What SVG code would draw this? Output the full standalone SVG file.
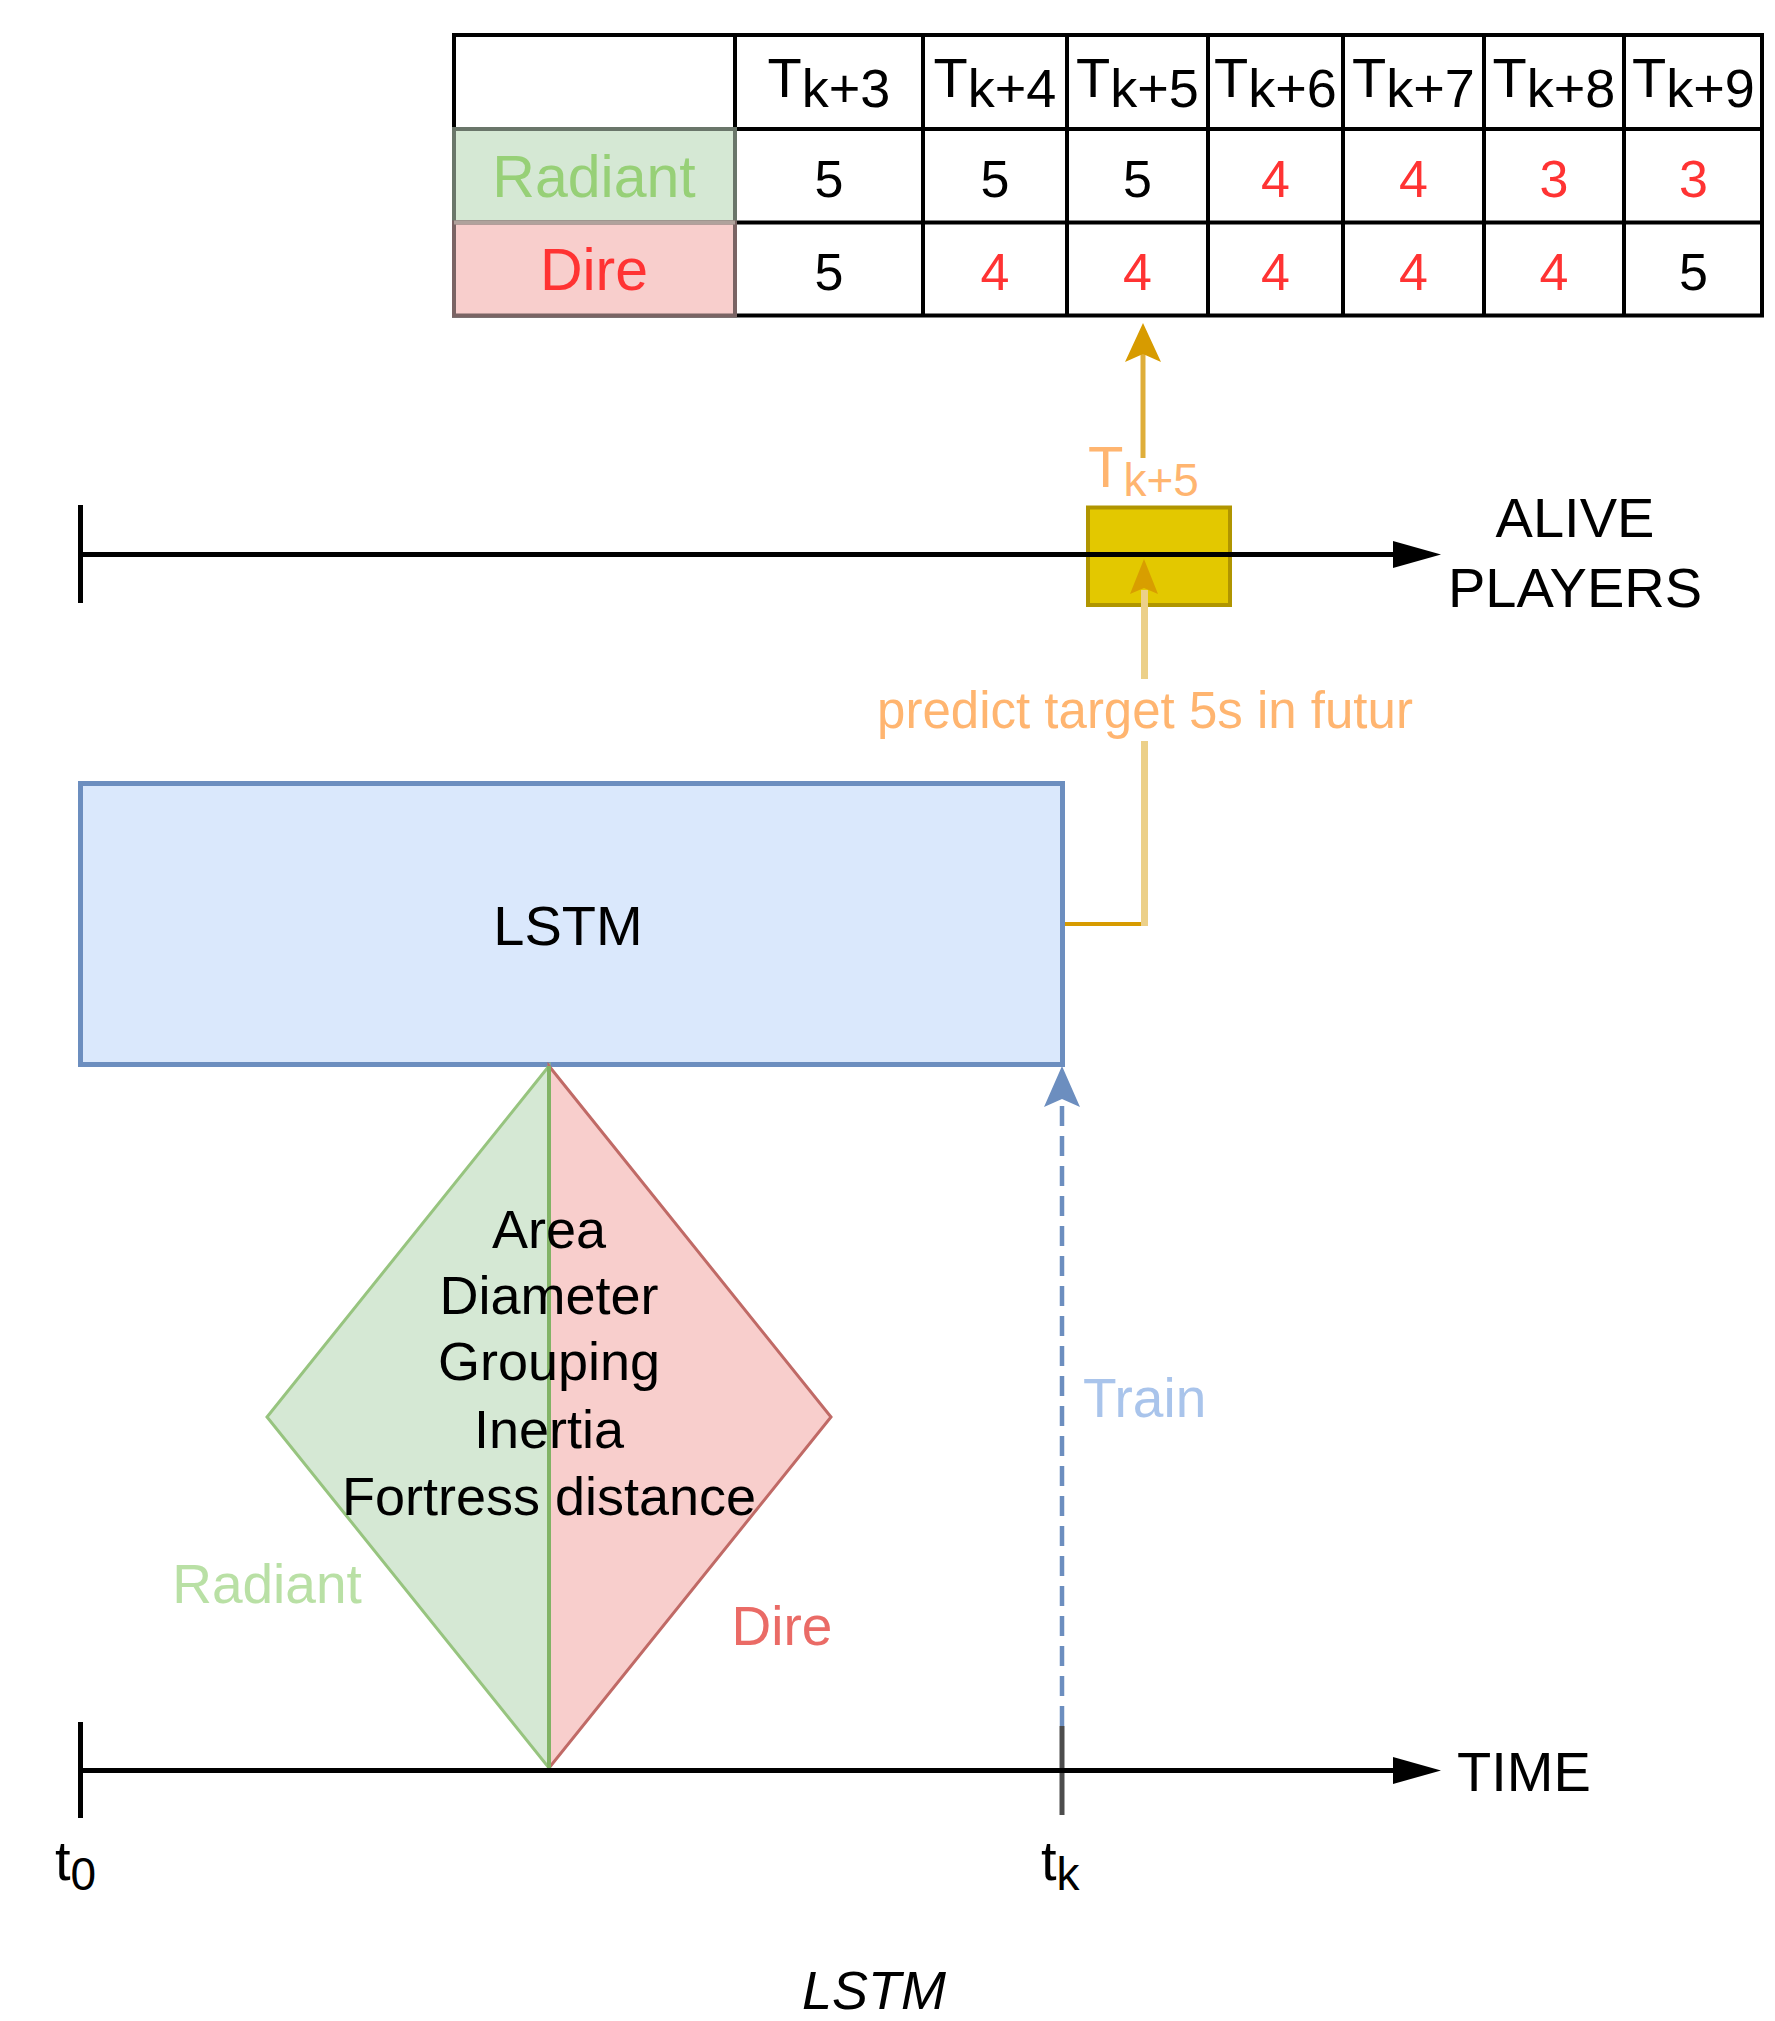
<svg xmlns="http://www.w3.org/2000/svg" width="1775" height="2021" viewBox="0 0 1775 2021">
<style>
text{font-family:"Liberation Sans",Arial,Helvetica,sans-serif}
.hd{font-size:56px;text-anchor:middle;fill:#000}
.sub{font-size:54px}
.num{font-size:52px;text-anchor:middle}
.blk{fill:#000}
.red{fill:#ff3333}
.grid{stroke:#000;stroke-width:4;fill:none}
.axis{stroke:#000;stroke-width:5;fill:none}
.big{font-size:56px;fill:#000}
.feat{font-size:54px;text-anchor:middle;fill:#000}
</style>
<rect x="0" y="0" width="1775" height="2021" fill="#fff"/>

<g id="table">
<rect x="454" y="35" width="1308" height="280.5" fill="#fff" stroke="#000" stroke-width="4"/>
<path class="grid" d="M454,129H1762M454,222.5H1762M735,35V315.5M923,35V315.5M1067,35V315.5M1208,35V315.5M1343,35V315.5M1484,35V315.5M1624,35V315.5"/>
<rect x="454" y="129" width="281" height="93.5" fill="#d5e8d4" stroke="#6a766a" stroke-width="4"/>
<rect x="454" y="222.5" width="281" height="93" fill="#f8cecc" stroke="#7a6464" stroke-width="4"/>
<line x1="454" y1="222.5" x2="735" y2="222.5" stroke="#b0a29c" stroke-width="4"/>
<text x="594" y="197" font-size="59" text-anchor="middle" fill="#97d077">Radiant</text>
<text x="594" y="290" font-size="59" text-anchor="middle" fill="#ff3333">Dire</text>
<text class="hd" x="829" y="97">T<tspan class="sub" dy="10">k+3</tspan></text>
<text class="hd" x="995" y="97">T<tspan class="sub" dy="10">k+4</tspan></text>
<text class="hd" x="1137.5" y="97">T<tspan class="sub" dy="10">k+5</tspan></text>
<text class="hd" x="1275.5" y="97">T<tspan class="sub" dy="10">k+6</tspan></text>
<text class="hd" x="1413.5" y="97">T<tspan class="sub" dy="10">k+7</tspan></text>
<text class="hd" x="1554" y="97">T<tspan class="sub" dy="10">k+8</tspan></text>
<text class="hd" x="1693.5" y="97">T<tspan class="sub" dy="10">k+9</tspan></text>
<text class="num blk" x="829" y="197">5</text>
<text class="num blk" x="995" y="197">5</text>
<text class="num blk" x="1137.5" y="197">5</text>
<text class="num red" x="1275.5" y="197">4</text>
<text class="num red" x="1413.5" y="197">4</text>
<text class="num red" x="1554" y="197">3</text>
<text class="num red" x="1693.5" y="197">3</text>
<text class="num blk" x="829" y="290">5</text>
<text class="num red" x="995" y="290">4</text>
<text class="num red" x="1137.5" y="290">4</text>
<text class="num red" x="1275.5" y="290">4</text>
<text class="num red" x="1413.5" y="290">4</text>
<text class="num red" x="1554" y="290">4</text>
<text class="num blk" x="1693.5" y="290">5</text>
</g>

<g id="lstm">
<rect x="80.5" y="783.5" width="982" height="281" fill="#dae8fc" stroke="#6c8ebf" stroke-width="5"/>
<text x="568" y="945" font-size="56" text-anchor="middle" fill="#000">LSTM</text>
</g>

<g id="features-diamond">
<polygon points="549,1066 267,1417 549,1768" fill="#d5e8d4" stroke="#97c47f" stroke-width="3"/>
<polygon points="549,1066 831,1417 549,1768" fill="#f8cecc" stroke="#c06a66" stroke-width="3"/>
<line x1="549" y1="1066" x2="549" y2="1768" stroke="#82b366" stroke-width="4"/>
<text class="feat" x="549" y="1248">Area</text>
<text class="feat" x="549" y="1314">Diameter</text>
<text class="feat" x="549" y="1380">Grouping</text>
<text class="feat" x="549" y="1448">Inertia</text>
<text class="feat" x="549" y="1515">Fortress distance</text>
</g>

<g id="radiant-label"><text x="267" y="1603" font-size="55" text-anchor="middle" fill="#b9e0a5">Radiant</text></g>
<g id="dire-label"><text x="782" y="1645" font-size="55" text-anchor="middle" fill="#ea6b66">Dire</text></g>

<g id="target-box">
<rect x="1088" y="507.5" width="142" height="97.5" fill="#e3c800" stroke="#b09500" stroke-width="4"/>
</g>

<g id="alive-axis">
<line class="axis" x1="80.5" y1="505" x2="80.5" y2="603"/>
<line class="axis" x1="80.5" y1="554.5" x2="1396" y2="554.5"/>
<polygon points="1393,541 1441,554.5 1393,568" fill="#000"/>
<text class="big" x="1575" y="537" text-anchor="middle">ALIVE</text>
<text class="big" x="1575" y="607" text-anchor="middle">PLAYERS</text>
</g>

<g id="time-axis">
<line class="axis" x1="80.5" y1="1722" x2="80.5" y2="1818"/>
<line x1="1062" y1="1726" x2="1062" y2="1815" stroke="#4d4d4d" stroke-width="5"/>
<line class="axis" x1="80.5" y1="1770.5" x2="1396" y2="1770.5"/>
<polygon points="1393,1757 1441,1770.5 1393,1784" fill="#000"/>
<text class="big" x="1457" y="1791" font-size="58">TIME</text>
<text x="55" y="1880" font-size="56" fill="#000">t<tspan font-size="46" dy="10">0</tspan></text>
<text x="1041" y="1880" font-size="56" fill="#000">t<tspan font-size="46" dy="10">k</tspan></text>
</g>

<g id="connectors">
<path d="M1065,924H1144" fill="none" stroke="#d79b00" stroke-width="4"/>
<path d="M1144.5,926V590" fill="none" stroke="#ecd089" stroke-width="7"/>
<polygon points="1144,559 1130,594 1144,588 1158,594" fill="#d89e00"/>
<rect x="872" y="679" width="546" height="62" fill="#fff"/>
<text x="1145" y="728" font-size="51" text-anchor="middle" fill="#ffb570">predict target 5s in futur</text>
<path d="M1143,458V352" fill="none" stroke="#dfae3a" stroke-width="5"/>
<polygon points="1143,323 1125,362 1143,354 1161,362" fill="#d79b00"/>
<text x="1088" y="487" font-size="58" fill="#ffb570">T<tspan font-size="46" dy="9">k+5</tspan></text>
<path d="M1062,1726V1100" fill="none" stroke="#6c8ebf" stroke-width="4.5" stroke-dasharray="20 10"/>
<polygon points="1062,1066 1044,1107 1062,1099 1080,1107" fill="#6c8ebf"/>
<text x="1083" y="1417" font-size="55" fill="#a9c4eb">Train</text>
</g>

<g id="caption">
<text x="874" y="2009" font-family="DejaVu Sans,sans-serif" font-style="italic" font-size="54" text-anchor="middle" fill="#000">LSTM</text>
</g>
</svg>
